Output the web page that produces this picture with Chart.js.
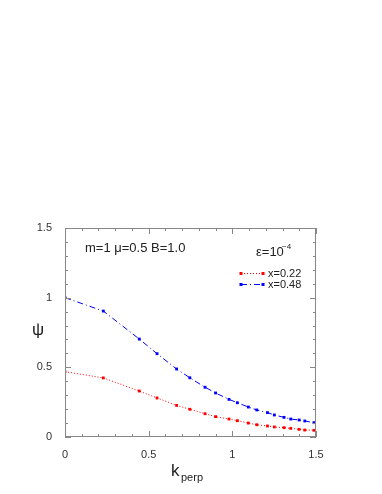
<!DOCTYPE html>
<html lang="en">
<head>
<meta charset="UTF-8">
<title>psi vs k_perp</title>
<script src="https://cdn.jsdelivr.net/npm/chart.js"></script>
<style>
  html, body { margin: 0; padding: 0; background: #fff; }
  #wrap { width: 382px; height: 494px; }
</style>
</head>
<body>
<div id="wrap"><canvas id="grafico"></canvas></div>
<script>
    // data
    const kPerp = [0, 0.229, 0.444, 0.55, 0.667, 0.746, 0.837, 0.90, 0.98, 1.03, 1.096, 1.146, 1.21, 1.251, 1.309, 1.349, 1.399, 1.433, 1.488];
    const psiX022 = [0.469, 0.424, 0.330, 0.280, 0.227, 0.199, 0.167, 0.146, 0.129, 0.117, 0.100, 0.088, 0.079, 0.072, 0.067, 0.062, 0.055, 0.050, 0.048];
    const psiX048 = [1.0, 0.904, 0.703, 0.598, 0.488, 0.425, 0.357, 0.316, 0.270, 0.246, 0.215, 0.194, 0.175, 0.158, 0.141, 0.129, 0.122, 0.115, 0.103];
    const seriesNames = ['x=0.22', 'x=0.48'];
    const majorTicks = [0, 0.5, 1, 1.5];

    const fonte = '"Liberation Sans", Arial, sans-serif';

    function pontos(ys) {
        return kPerp.map((x, i) => ({ x: x, y: ys[i] }));
    }

    function rotulo(v) {
        const r = Math.round(v * 10) / 10;
        if (r === 1.5) return '1.5';
        if (r === 0.5) return '0.5';
        if (r === 0) return '0';
        if (r === 1) return '1';
        return '';
    }

    // frame, inner ticks, titles, annotations and legend
    const moldura = {
        id: 'moldura',
        afterDraw(chart) {
            const ctx = chart.ctx;
            const a = chart.chartArea;
            const sx = chart.scales.x, sy = chart.scales.y;
            ctx.save();
            ctx.strokeStyle = '#888';
            ctx.lineWidth = 1;
            ctx.strokeRect(a.left + 0.5, a.top + 0.5, a.right - a.left - 1, a.bottom - a.top - 1);

            ctx.beginPath();
            for (let i = 0; i <= 15; i++) {
                const v = i / 10;
                const len = (i % 5 === 0) ? 6 : 3;
                const px = Math.round(sx.getPixelForValue(v)) + 0.5;
                ctx.moveTo(px, a.bottom); ctx.lineTo(px, a.bottom - len);
                ctx.moveTo(px, a.top); ctx.lineTo(px, a.top + len);
                const py = Math.round(sy.getPixelForValue(v)) + 0.5;
                ctx.moveTo(a.left, py); ctx.lineTo(a.left + len, py);
                ctx.moveTo(a.right, py); ctx.lineTo(a.right - len, py);
            }
            ctx.stroke();

            ctx.fillStyle = '#222';
            // y title
            ctx.font = '17px ' + fonte;
            ctx.textAlign = 'center';
            ctx.textBaseline = 'middle';
            ctx.fillText('\u03C8', 38, 330);
            // x title
            ctx.textAlign = 'left';
            ctx.textBaseline = 'alphabetic';
            ctx.font = '17px ' + fonte;
            ctx.fillText('k', 171, 476);
            ctx.font = '11px ' + fonte;
            ctx.fillText('perp', 181, 481);

            // annotations
            ctx.font = '13px ' + fonte;
            ctx.fillText('m=1 \u03BC=0.5 B=1.0', 85, 252);
            ctx.fillText('\u03B5=10', 256, 256);
            ctx.font = '8px ' + fonte;
            ctx.fillText('\u22124', 282, 249);

            // legend
            ctx.font = '11px ' + fonte;
            ctx.textBaseline = 'middle';
            const ly = [273, 284];
            chart.data.datasets.forEach((ds, i) => {
                ctx.strokeStyle = ds.borderColor;
                ctx.lineWidth = 1;
                ctx.setLineDash(ds.borderDash);
                ctx.beginPath();
                ctx.moveTo(241, ly[i] + 0.5);
                ctx.lineTo(263, ly[i] + 0.5);
                ctx.stroke();
                ctx.setLineDash([]);
                ctx.fillStyle = ds.pointBackgroundColor;
                [241, 263].forEach(px => {
                    ctx.fillRect(px - 1.5, ly[i] - 1, 3, 3);
                });
                ctx.fillStyle = '#222';
                ctx.fillText(ds.label, 268, ly[i] + 0.5);
            });
            ctx.restore();
        }
    };

    const ctx = document.getElementById('grafico').getContext('2d');
    new Chart(ctx, {
        type: 'scatter',
        data: {
            datasets: [
                {
                    label: seriesNames[0],
                    data: pontos(psiX022),
                    showLine: true,
                    borderColor: '#ff0000',
                    backgroundColor: '#ff0000',
                    pointBackgroundColor: '#ff0000',
                    pointStyle: 'rect',
                    pointBorderWidth: 0,
                    pointRadius: 2,
                    borderWidth: 1,
                    borderDash: [1, 2]
                },
                {
                    label: seriesNames[1],
                    data: pontos(psiX048),
                    showLine: true,
                    borderColor: '#0000ff',
                    backgroundColor: '#0000ff',
                    pointBackgroundColor: '#0000ff',
                    pointStyle: 'rect',
                    pointBorderWidth: 0,
                    pointRadius: 2,
                    borderWidth: 1,
                    borderDash: [6, 3, 1, 3]
                }
            ]
        },
        options: {
            responsive: true,
            maintainAspectRatio: false,
            animation: false,
            layout: { padding: { left: 0, right: 66, top: 228, bottom: 30 } },
            plugins: {
                legend: { display: false },
                tooltip: { enabled: false }
            },
            scales: {
                x: {
                    type: 'linear',
                    min: 0,
                    max: 1.5,
                    afterBuildTicks(scale) { scale.ticks = majorTicks.map(v => ({ value: v })); },
                    afterFit(scale) { scale.height = 27; },
                    grid: { display: false },
                    border: { display: false },
                    ticks: {
                        color: '#333',
                        padding: 3,
                        maxRotation: 0,
                        font: { family: fonte, size: 11 },
                        callback: v => rotulo(v)
                    }
                },
                y: {
                    type: 'linear',
                    min: 0,
                    max: 1.5,
                    afterBuildTicks(scale) { scale.ticks = majorTicks.map(v => ({ value: v })); },
                    afterFit(scale) { scale.width = 65; },
                    grid: { display: false },
                    border: { display: false },
                    ticks: {
                        color: '#333',
                        padding: 5,
                        font: { family: fonte, size: 11 },
                        callback: v => rotulo(v)
                    }
                }
            }
        },
        plugins: [moldura]
    });
</script>
</body>
</html>
